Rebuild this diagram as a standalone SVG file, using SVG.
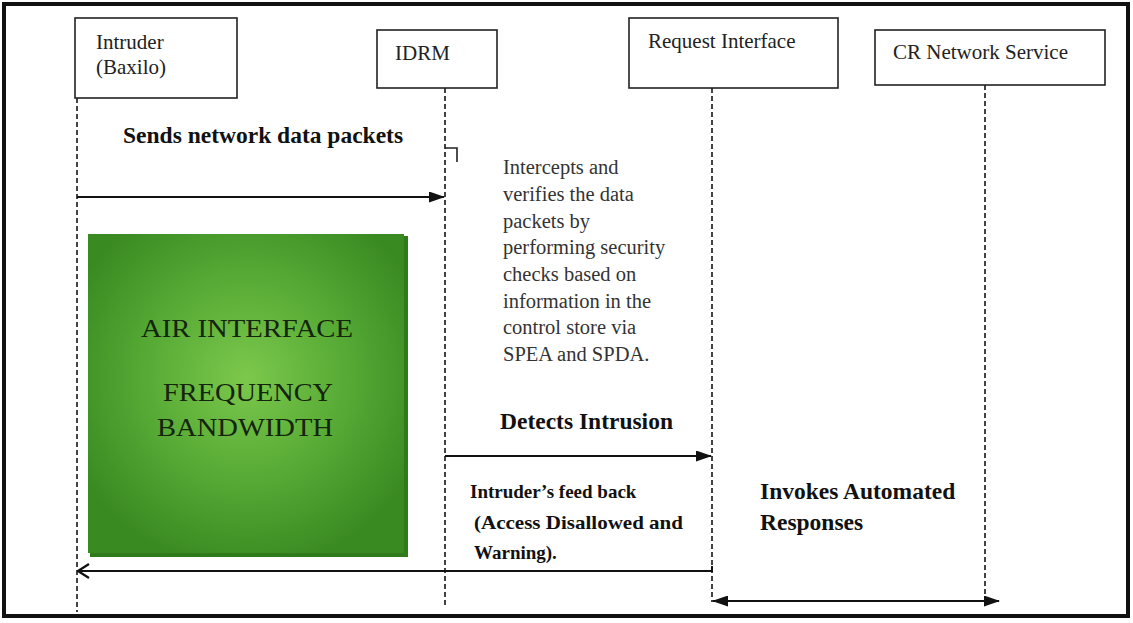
<svg xmlns="http://www.w3.org/2000/svg" width="1133" height="623" viewBox="0 0 1133 623">
  <defs>
    <style>
      .frame { fill: #ffffff; stroke: #111; stroke-width: 4; }
      .box { fill: #ffffff; stroke: #222; stroke-width: 1.6; }
      .lbl { font-family: "Liberation Serif", "Times New Roman", serif; font-size: 21px; fill: #222; }
      .msg { font-family: "Liberation Serif", "Times New Roman", serif; font-size: 23.5px; font-weight: bold; fill: #111; }
      .fb { font-family: "Liberation Serif", "Times New Roman", serif; font-size: 19px; font-weight: bold; fill: #111; }
      .note { font-family: "Liberation Serif", "Times New Roman", serif; font-size: 20.5px; fill: #333; }
      .band { font-family: "Liberation Serif", "Times New Roman", serif; font-size: 26px; fill: #15240c; text-anchor: middle; }
      .life { stroke: #222; stroke-width: 1.7; stroke-dasharray: 5 3; fill: none; }
      .wire { stroke: #111; stroke-width: 2; fill: none; }
    </style>
    <marker id="solidHead" viewBox="0 0 16 11" refX="15" refY="5.5" markerWidth="16" markerHeight="11" markerUnits="userSpaceOnUse" orient="auto-start-reverse">
      <path d="M0,0 L16,5.5 L0,11 Z" fill="#111"/>
    </marker>
    <marker id="openHead" viewBox="0 0 13 16" refX="12" refY="8" markerWidth="13" markerHeight="16" markerUnits="userSpaceOnUse" orient="auto">
      <path d="M1,1 L12,8 L1,15" fill="none" stroke="#111" stroke-width="2.2"/>
    </marker>
    <radialGradient id="greenGlow" cx="0.5" cy="0.45" r="0.6">
      <stop offset="0" stop-color="#7cc84c"/>
      <stop offset="0.55" stop-color="#55a934"/>
      <stop offset="1" stop-color="#3a8a22"/>
    </radialGradient>
  </defs>

  <rect class="frame" x="4" y="4" width="1124" height="612"/>

  <!-- lifelines and messages -->
  <g id="connectors">
    <line class="life" x1="77" y1="98" x2="77" y2="612"/>
    <line class="life" x1="445" y1="88" x2="445" y2="606"/>
    <line class="life" x1="712" y1="88" x2="712" y2="602"/>
    <line class="life" x1="985" y1="85" x2="985" y2="604"/>

    <!-- intercept notch on the IDRM lifeline -->
    <path d="M445,148 H457 V162" fill="none" stroke="#222" stroke-width="1.6"/>

    <line class="wire" x1="77" y1="197" x2="444" y2="197" marker-end="url(#solidHead)"/>
    <line class="wire" x1="445" y1="456" x2="711" y2="456" marker-end="url(#solidHead)"/>
    <path class="wire" d="M712,566 V571 H78" marker-end="url(#openHead)"/>
    <line class="wire" x1="713" y1="601" x2="999" y2="601" marker-start="url(#solidHead)" marker-end="url(#solidHead)"/>
  </g>

  <g id="node-intruder">
    <rect class="box" x="75" y="18" width="162" height="80"/>
    <text class="lbl" x="96" y="49">Intruder</text>
    <text class="lbl" x="96" y="74">(Baxilo)</text>
  </g>

  <g id="node-idrm">
    <rect class="box" x="377" y="30" width="120" height="58"/>
    <text class="lbl" x="395" y="60">IDRM</text>
  </g>

  <g id="node-request">
    <rect class="box" x="629" y="18" width="209" height="70"/>
    <text class="lbl" x="648" y="48">Request Interface</text>
  </g>

  <g id="node-crservice">
    <rect class="box" x="875" y="30" width="230" height="55"/>
    <text class="lbl" x="893" y="59">CR Network Service</text>
  </g>

  <g id="node-air">
    <rect x="90" y="236" width="318" height="321" fill="#2f7a1a"/>
    <rect x="88" y="234" width="316" height="319" fill="url(#greenGlow)"/>
    <text class="band" x="247" y="337" textLength="212" lengthAdjust="spacingAndGlyphs">AIR INTERFACE</text>
    <text class="band" x="248" y="401" textLength="170" lengthAdjust="spacingAndGlyphs">FREQUENCY</text>
    <text class="band" x="245" y="436" textLength="176" lengthAdjust="spacingAndGlyphs">BANDWIDTH</text>
  </g>

  <g id="labels">
    <text class="msg" x="123" y="143">Sends network data packets</text>
    <text class="note">
      <tspan x="503" y="174">Intercepts and</tspan>
      <tspan x="503" y="201">verifies the data</tspan>
      <tspan x="503" y="228">packets by</tspan>
      <tspan x="503" y="254">performing security</tspan>
      <tspan x="503" y="281">checks based on</tspan>
      <tspan x="503" y="308">information in the</tspan>
      <tspan x="503" y="334">control store via</tspan>
      <tspan x="503" y="361">SPEA and SPDA.</tspan>
    </text>
    <text class="msg" x="500" y="429">Detects Intrusion</text>
    <text class="fb" x="470" y="498">Intruder’s feed back</text>
    <text class="fb" x="474" y="529" textLength="209" lengthAdjust="spacingAndGlyphs">(Access Disallowed and</text>
    <text class="fb" x="474" y="559">Warning).</text>
    <text class="msg" x="760" y="499">Invokes Automated</text>
    <text class="msg" x="760" y="530">Responses</text>
  </g>
</svg>
